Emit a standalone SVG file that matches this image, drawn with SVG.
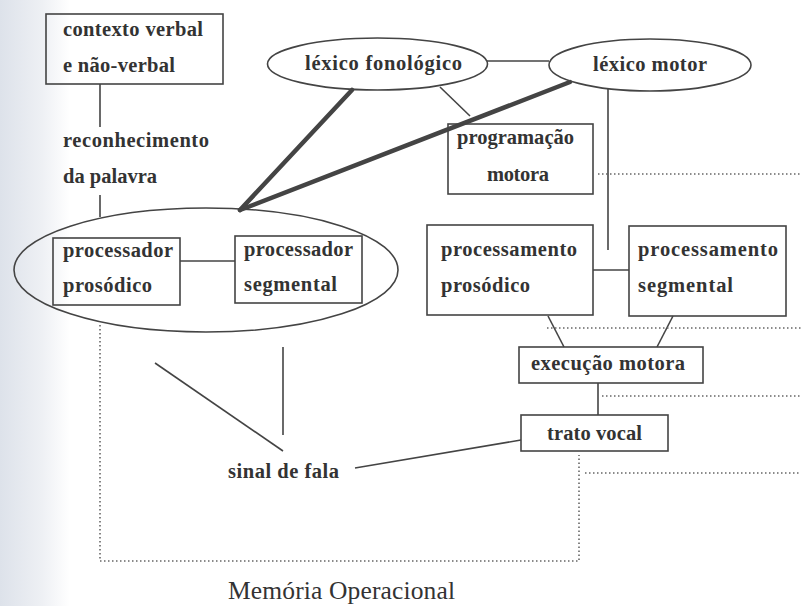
<svg xmlns="http://www.w3.org/2000/svg" width="801" height="606" viewBox="0 0 801 606">
<defs>
<linearGradient id="shade" x1="0" y1="0" x2="1" y2="0">
<stop offset="0" stop-color="#dde2ea"/>
<stop offset="0.6" stop-color="#eef0f4"/>
<stop offset="1" stop-color="#ffffff"/>
</linearGradient>
<style>
.t{font-family:"Liberation Serif",serif;font-weight:bold;font-size:20.5px;fill:#333}
.m{font-family:"Liberation Serif",serif;font-size:25.5px;fill:#333}
.b{fill:none;stroke:#444;stroke-width:1.6}
.l{fill:none;stroke:#444;stroke-width:1.6}
.k{fill:none;stroke:#444;stroke-width:4.5;stroke-linecap:round}
.d{fill:none;stroke:#666;stroke-width:1.6;stroke-dasharray:1.5 2.5}
</style>
</defs>
<rect width="801" height="606" fill="#fff"/>
<rect width="70" height="606" fill="url(#shade)"/>

<g id="connectors">
<line class="l" x1="100" y1="84" x2="100" y2="127"/>
<line class="l" x1="100" y1="195" x2="100" y2="217"/>
<line class="l" x1="180" y1="261" x2="235" y2="261"/>
<line class="l" x1="487" y1="61" x2="549" y2="61"/>
<line class="l" x1="440" y1="87" x2="470" y2="116"/>
<line class="l" x1="608" y1="89" x2="608" y2="250"/>
<line class="k" x1="240" y1="210" x2="352" y2="90"/>
<line class="k" x1="240" y1="210" x2="570" y2="82"/>
<line class="l" x1="593" y1="270" x2="629" y2="270"/>
<line class="l" x1="548" y1="316" x2="564" y2="347"/>
<line class="l" x1="673" y1="316" x2="657" y2="347"/>
<line class="l" x1="598" y1="383" x2="598" y2="415"/>
<line class="l" x1="355" y1="468" x2="521" y2="440"/>
<line class="l" x1="155" y1="363" x2="283" y2="451"/>
<line class="l" x1="283" y1="347" x2="283" y2="435"/>
<line class="d" x1="598" y1="174" x2="801" y2="174"/>
<line class="d" x1="547" y1="328" x2="801" y2="328"/>
<line class="d" x1="602" y1="396" x2="801" y2="396"/>
<polyline class="d" points="100,325 100,561 579,561 579,455"/>
<line class="d" x1="585" y1="473" x2="801" y2="473"/>
</g>

<g id="contexto">
<rect class="b" x="46" y="14" width="177" height="70"/>
<text class="t" x="63" y="36" textLength="140">contexto verbal</text>
<text class="t" x="63" y="72" textLength="112">e não-verbal</text>
</g>

<g id="reconhecimento">
<text class="t" x="63" y="147" textLength="146">reconhecimento</text>
<text class="t" x="63" y="183" textLength="94">da palavra</text>
</g>

<g id="lexico-fonologico">
<ellipse class="b" cx="377.5" cy="64" rx="110" ry="26"/>
<text class="t" x="305" y="70" textLength="157">léxico fonológico</text>
</g>

<g id="lexico-motor">
<ellipse class="b" cx="650" cy="65" rx="101" ry="26"/>
<text class="t" x="593" y="71" textLength="114">léxico motor</text>
</g>

<g id="programacao-motora">
<rect class="b" x="448" y="124" width="145" height="70"/>
<text class="t" x="457" y="144" textLength="117">programação</text>
<text class="t" x="487" y="181" textLength="62">motora</text>
</g>

<g id="percepcao">
<ellipse class="b" cx="206" cy="270" rx="192" ry="62"/>
</g>

<g id="processador-prosodico">
<rect class="b" x="53" y="238" width="127" height="67"/>
<text class="t" x="63" y="257" textLength="110">processador</text>
<text class="t" x="63" y="292" textLength="89">prosódico</text>
</g>

<g id="processador-segmental">
<rect class="b" x="235" y="236" width="127" height="67"/>
<text class="t" x="244" y="256" textLength="109">processador</text>
<text class="t" x="244" y="291" textLength="93">segmental</text>
</g>

<g id="processamento-prosodico">
<rect class="b" x="427" y="225" width="166" height="90"/>
<text class="t" x="441" y="256" textLength="136">processamento</text>
<text class="t" x="441" y="292" textLength="89">prosódico</text>
</g>

<g id="processamento-segmental">
<rect class="b" x="629" y="226" width="157" height="90"/>
<text class="t" x="638" y="256" textLength="140">processamento</text>
<text class="t" x="638" y="292" textLength="95">segmental</text>
</g>

<g id="execucao-motora">
<rect class="b" x="519" y="347" width="184" height="36"/>
<text class="t" x="531" y="370" textLength="154">execução motora</text>
</g>

<g id="trato-vocal">
<rect class="b" x="521" y="415" width="147" height="36"/>
<text class="t" x="547" y="440" textLength="95">trato vocal</text>
</g>

<g id="sinal-de-fala">
<text class="t" x="228" y="478" textLength="111">sinal de fala</text>
</g>

<g id="memoria-operacional">
<text class="m" x="228" y="599" textLength="227">Memória Operacional</text>
</g>
</svg>
